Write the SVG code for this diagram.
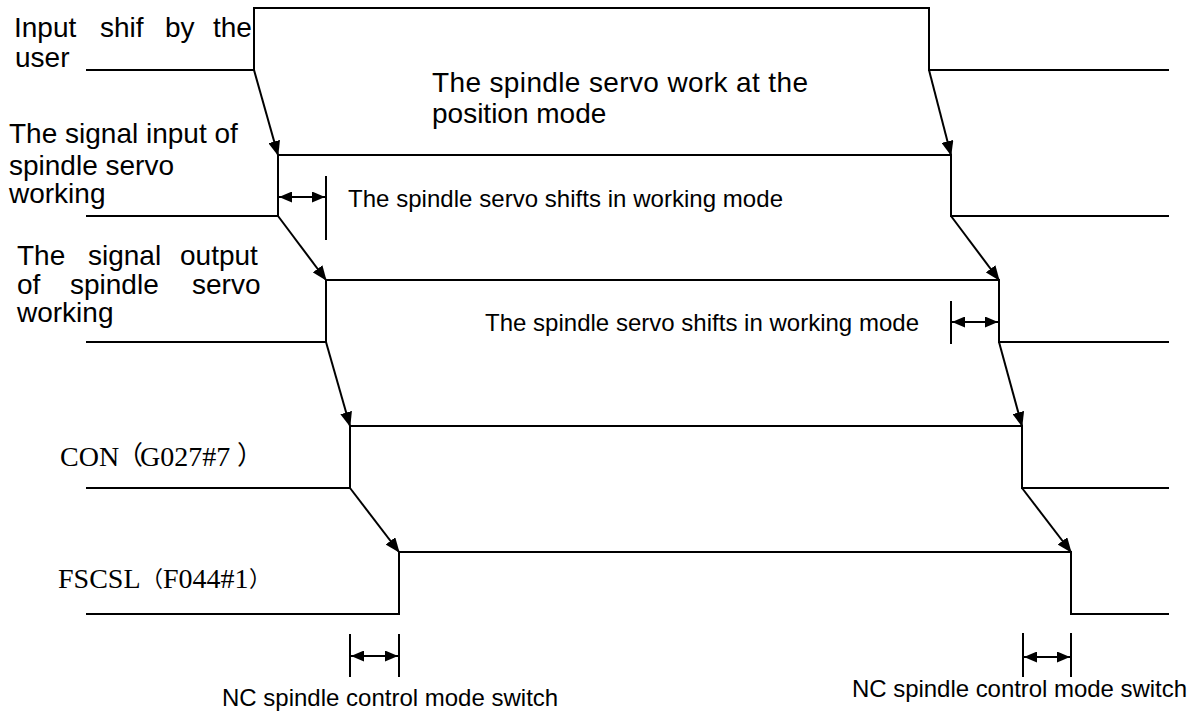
<svg xmlns="http://www.w3.org/2000/svg" width="1199" height="711" viewBox="0 0 1199 711">
<style>
.sig{fill:none;stroke:#000;stroke-width:2}
.con{fill:none;stroke:#000;stroke-width:2}
.bar{stroke:#000;stroke-width:2}
.t{font-family:"Liberation Sans",Arial,sans-serif;font-size:24px;fill:#000}
.L{font-family:"Liberation Sans",Arial,sans-serif;font-size:28px;fill:#000}
.s{font-family:"Liberation Serif","Times New Roman",serif;font-size:28px;fill:#000}
.p{font-family:"Noto Sans CJK SC",sans-serif;font-size:26px}
.q{font-family:"Noto Sans CJK SC",sans-serif;font-size:22px}
</style>
<defs>
<marker id="ah" markerUnits="userSpaceOnUse" markerWidth="15" markerHeight="12" refX="14" refY="6" orient="auto"><path d="M0,0 L15,6 L0,12 z" fill="#000"/></marker>
<marker id="dh" markerUnits="userSpaceOnUse" markerWidth="13" markerHeight="11" refX="13" refY="5.5" orient="auto-start-reverse"><path d="M0,0 L13,5.5 L0,11 z" fill="#000"/></marker>
</defs>
<rect width="1199" height="711" fill="#fff"/>
<g id="signal-input-shift">
<polyline class="sig" points="86,70 254,70 254,8 929,8 929,70 1169,70"/>
<text class="L" y="37"><tspan x="14">Input</tspan><tspan x="100">shif</tspan><tspan x="165">by</tspan><tspan x="213">the</tspan></text>
<text class="L" x="15" y="67">user</text>
<text class="L" x="432" y="92" textLength="376" lengthAdjust="spacing">The spindle servo work at the</text>
<text class="L" x="432" y="123">position mode</text>
</g>
<g id="signal-input-servo">
<polyline class="sig" points="86,216 278,216 278,155 951,155 951,216 1169,216"/>
<text class="L" x="9" y="143">The signal input of</text>
<text class="L" x="9" y="175">spindle servo</text>
<text class="L" x="9" y="203">working</text>
</g>
<g id="signal-output-servo">
<polyline class="sig" points="86,342 326,342 326,280 999,280 999,342 1169,342"/>
<text class="L" y="265"><tspan x="17">The</tspan><tspan x="88">signal</tspan><tspan x="180">output</tspan></text>
<text class="L" y="294"><tspan x="17">of</tspan><tspan x="70">spindle</tspan><tspan x="192">servo</tspan></text>
<text class="L" x="17" y="322">working</text>
</g>
<g id="signal-con">
<polyline class="sig" points="86,488 350,488 350,426 1022,426 1022,488 1169,488"/>
<text class="s" y="466"><tspan x="60">CON</tspan><tspan class="p" x="117" dy="-2">（</tspan><tspan x="140" dy="2">G027#7</tspan><tspan class="p" x="237" dy="-2">）</tspan></text>
</g>
<g id="signal-fscsl">
<polyline class="sig" points="86,614 399,614 399,552 1071,552 1071,614 1169,614"/>
<text class="s" y="588"><tspan x="58">FSCSL</tspan><tspan class="q" x="141" dy="-2">（</tspan><tspan x="163" dy="2">F044#1</tspan><tspan class="q" x="249" dy="-2">）</tspan></text>
</g>
<g id="interval-servo-shift-1">
<line class="bar" x1="326" y1="176" x2="326" y2="240"/>
<line class="con" x1="279" y1="197" x2="325" y2="197" marker-start="url(#dh)" marker-end="url(#dh)"/>
<text class="t" x="348" y="207" textLength="435" lengthAdjust="spacing">The spindle servo shifts in working mode</text>
</g>
<g id="interval-servo-shift-2">
<line class="bar" x1="951" y1="301" x2="951" y2="344"/>
<line class="con" x1="952" y1="322" x2="998" y2="322" marker-start="url(#dh)" marker-end="url(#dh)"/>
<text class="t" x="485" y="331" textLength="434" lengthAdjust="spacing">The spindle servo shifts in working mode</text>
</g>
<g id="interval-nc-switch-1">
<line class="bar" x1="350" y1="634" x2="350" y2="677"/>
<line class="bar" x1="399" y1="634" x2="399" y2="677"/>
<line class="con" x1="351" y1="656" x2="398" y2="656" marker-start="url(#dh)" marker-end="url(#dh)"/>
<text class="t" x="222" y="706">NC spindle control mode switch</text>
</g>
<g id="interval-nc-switch-2">
<line class="bar" x1="1023" y1="633" x2="1023" y2="677"/>
<line class="bar" x1="1071" y1="633" x2="1071" y2="677"/>
<line class="con" x1="1024" y1="657" x2="1070" y2="657" marker-start="url(#dh)" marker-end="url(#dh)"/>
<text class="t" x="852" y="697" textLength="335" lengthAdjust="spacing">NC spindle control mode switch</text>
</g>
<g id="connectors">
<line class="con" x1="254" y1="70" x2="278" y2="155" marker-end="url(#ah)"/>
<line class="con" x1="278" y1="216" x2="326" y2="280" marker-end="url(#ah)"/>
<line class="con" x1="326" y1="342" x2="350" y2="426" marker-end="url(#ah)"/>
<line class="con" x1="350" y1="488" x2="399" y2="552" marker-end="url(#ah)"/>
<line class="con" x1="929" y1="70" x2="951" y2="155" marker-end="url(#ah)"/>
<line class="con" x1="951" y1="216" x2="999" y2="280" marker-end="url(#ah)"/>
<line class="con" x1="999" y1="342" x2="1022" y2="426" marker-end="url(#ah)"/>
<line class="con" x1="1022" y1="488" x2="1071" y2="552" marker-end="url(#ah)"/>
</g>
</svg>
